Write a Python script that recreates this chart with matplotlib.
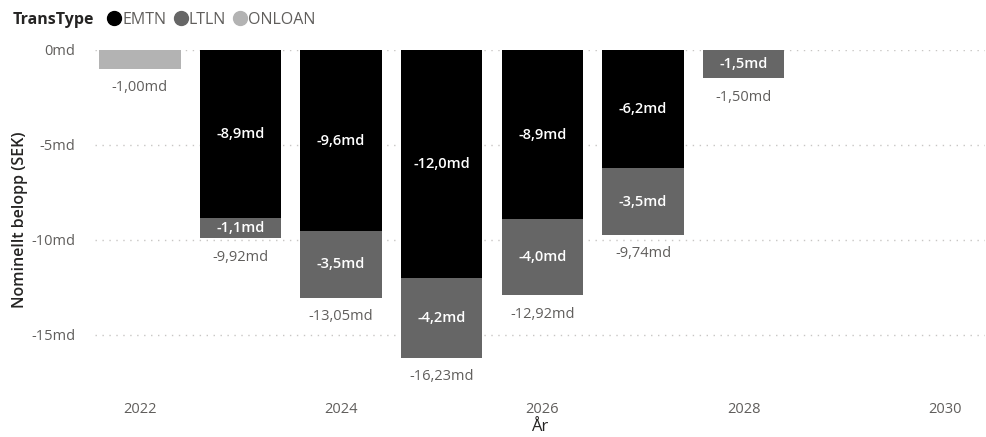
import matplotlib.pyplot as plt
from matplotlib.lines import Line2D
import numpy as np

# data (md SEK)
years = [2022, 2023, 2024, 2025, 2026, 2027, 2028]
emtn = [0, -8.86, -9.55, -12.0, -8.92, -6.24, 0]
ltln = [0, -1.06, -3.5, -4.23, -4.0, -3.5, -1.5]
onloan = [-1.0, 0, 0, 0, 0, 0, 0]
series_names = ["EMTN", "LTLN", "ONLOAN"]
colors = ["#000000", "#666666", "#B3B3B3"]
xticks = [2022, 2024, 2026, 2028, 2030]
yticks = [0, -5, -10, -15]

plt.rcParams['font.family'] = ['Open Sans', 'DejaVu Sans']
txt_gray = "#605E5C"

fig = plt.figure(figsize=(9.86, 4.37), dpi=100)
ax = fig.add_axes([0.096, 0.108, 0.903, 0.778])

x = np.array(years)
w = 0.81
bottom = np.zeros(len(years))
for vals, name, col in zip([emtn, ltln, onloan], series_names, colors):
    vals = np.array(vals)
    ax.bar(x, vals, w, bottom=bottom, color=col, zorder=2)
    for xi, b, v in zip(x, bottom, vals):
        if v != 0 and name != "ONLOAN":
            lbl = f"{v:.1f}".replace('.', ',') + "md"
            ax.text(xi, b + v / 2, lbl, ha='center', va='center',
                    color='white', fontsize=10.5, fontweight='semibold', zorder=3)
    bottom = bottom + vals

# totals below bars
for xi, t in zip(x, bottom):
    lbl = f"{t:.2f}".replace('.', ',') + "md"
    ax.text(xi, t - 0.6, lbl, ha='center', va='top', color=txt_gray,
            fontsize=10.5, zorder=3)

ax.set_xlim(2021.55, 2030.4)
ax.set_ylim(-17.9, 0)
ax.set_xticks(xticks)
ax.set_xticklabels([str(t) for t in xticks])
ax.set_yticks(yticks)
ax.set_yticklabels([f"{t}md" for t in yticks])
ax.tick_params(length=0, colors=txt_gray, labelsize=10.5)
ax.tick_params(axis='x', pad=9)
ax.tick_params(axis='y', pad=14)
ax.grid(axis='y', color='#C8C6C4', linestyle=(0, (1, 4)), linewidth=1, zorder=0)
for s in ax.spines.values():
    s.set_visible(False)

ax.set_xlabel("År", fontsize=12, color='#252423', labelpad=1)
ax.set_ylabel("Nominellt belopp (SEK)", fontsize=11.5, color='#252423',
              fontweight='semibold', labelpad=2)
ax.yaxis.set_label_coords(-0.075, 0.5)

# legend
fig.text(0.013, 0.955, "TransType", fontsize=11.5, fontweight='bold',
         color='#252423', va='center', ha='left')
handles = [Line2D([], [], marker='o', linestyle='', color=c, markersize=10)
           for c in colors]
fig.legend(handles, series_names, loc='center left', bbox_to_anchor=(0.108, 0.955),
           ncol=3, frameon=False, handletextpad=0.0, columnspacing=0.4,
           borderaxespad=0, borderpad=0, handlelength=1.0,
           prop={'size': 11.5}, labelcolor=txt_gray)

fig.savefig("out.png", dpi=100, facecolor='white')
